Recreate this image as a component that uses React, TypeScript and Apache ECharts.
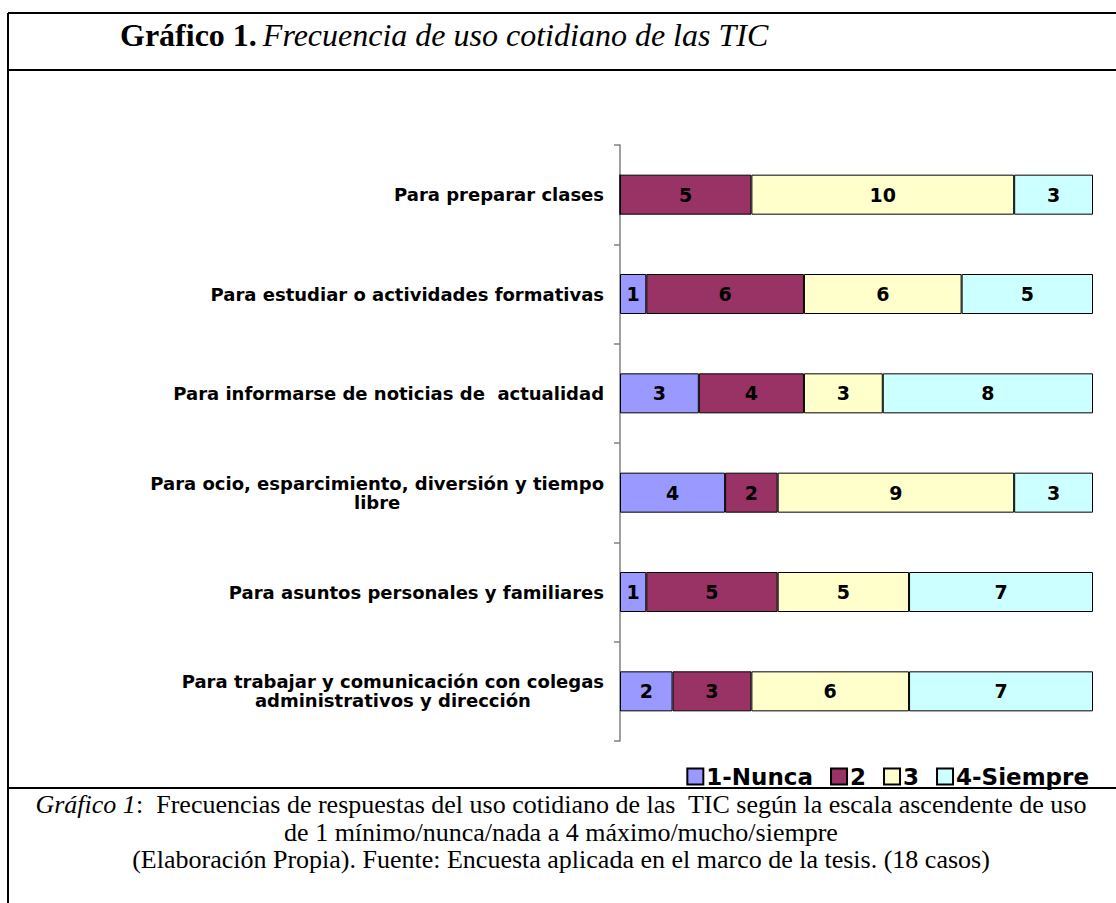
import React, { useEffect, useRef } from "react";
import * as echarts from "echarts";

const categories = [
  "Para preparar clases",
  "Para estudiar o actividades formativas",
  "Para informarse de noticias de  actualidad",
  "Para ocio, esparcimiento, diversión y tiempo\nlibre",
  "Para asuntos personales y familiares",
  "Para trabajar y comunicación con colegas\nadministrativos y dirección",
];
const seriesNames = ["1-Nunca", "2", "3", "4-Siempre"];
const nunca = [0, 1, 3, 4, 1, 2];
const dos = [5, 6, 4, 2, 5, 3];
const tres = [10, 6, 3, 9, 5, 6];
const siempre = [3, 5, 8, 3, 7, 7];
const colors = ["#9999FF", "#993366", "#FFFFCC", "#CCFFFF"];

const titleBold = "Gráfico 1.";
const titleItalic = "Frecuencia de uso cotidiano de las TIC";
const captionLines = [
  ["Gráfico 1", ":  Frecuencias de respuestas del uso cotidiano de las  TIC según la escala ascendente de uso"],
  ["", "de 1 mínimo/nunca/nada a 4 máximo/mucho/siempre"],
  ["", "(Elaboración Propia). Fuente: Encuesta aplicada en el marco de la tesis. (18 casos)"],
];
const captionY = [804, 832, 859];

export default function App() {
  const ref = useRef<HTMLDivElement>(null);
  useEffect(() => {
    if (!ref.current) return;
    const chart = echarts.init(ref.current, null, { renderer: "svg" });
    const values = [nunca, dos, tres, siempre];
    const sans = "DejaVu Sans";
    const serif = "Liberation Serif";
    chart.setOption({
      animation: false,
      backgroundColor: "#ffffff",
      grid: { left: 620, right: 23, top: 145, bottom: 162 },
      xAxis: { type: "value", min: 0, max: 18, show: false },
      yAxis: {
        type: "category",
        inverse: true,
        data: categories,
        axisLine: { show: true, lineStyle: { color: "#808080", width: 1.5 } },
        axisTick: { show: true, length: 6, lineStyle: { color: "#808080", width: 1.5 } },
        axisLabel: {
          margin: 16,
          align: "right",
          formatter: (v: string) => `{c|${v}}`,
          rich: {
            c: {
              align: "center",
              fontFamily: sans,
              fontWeight: "bold",
              fontSize: 18,
              lineHeight: 19,
              color: "#000",
            },
          },
        },
      },
      legend: {
        right: 22,
        top: 760,
        icon: "rect",
        itemWidth: 16,
        itemHeight: 16,
        itemGap: 17,
        textStyle: { fontFamily: sans, fontWeight: "bold", fontSize: 23, color: "#000", padding: [0, 0, 0, -2] },
        data: seriesNames,
      },
      series: seriesNames.map((name, i) => ({
        name,
        type: "bar",
        stack: "total",
        barWidth: 40,
        data: values[i],
        itemStyle: { color: colors[i], borderColor: "#000", borderWidth: 1 },
        label: {
          show: true,
          position: "inside",
          formatter: (p: any) => (p.value ? String(p.value) : ""),
          fontFamily: sans,
          fontWeight: "bold",
          fontSize: 19,
          color: "#000",
        },
      })),
      graphic: [
        { type: "line", shape: { x1: 8, y1: 13, x2: 1116, y2: 13 }, style: { stroke: "#000", lineWidth: 2 } },
        { type: "line", shape: { x1: 8, y1: 70, x2: 1116, y2: 70 }, style: { stroke: "#000", lineWidth: 2 } },
        { type: "line", shape: { x1: 8, y1: 788, x2: 1116, y2: 788 }, style: { stroke: "#000", lineWidth: 2 } },
        { type: "line", shape: { x1: 8, y1: 13, x2: 8, y2: 903 }, style: { stroke: "#000", lineWidth: 2 } },
        {
          type: "text",
          x: 120,
          y: 35,
          style: {
            text: `{b|${titleBold}}{s| }{i|${titleItalic}}`,
            verticalAlign: "middle",
            rich: {
              b: { fontFamily: serif, fontWeight: "bold", fontSize: 32, fill: "#000" },
              s: { fontFamily: serif, fontSize: 32, fill: "#000", width: 6 },
              i: { fontFamily: serif, fontStyle: "italic", fontSize: 32, fill: "#000" },
            },
          },
        },
        ...captionLines.map((ln, k) => ({
          type: "text",
          x: 561,
          y: captionY[k],
          style: {
            text: (ln[0] ? `{i|${ln[0]}}` : "") + `{n|${ln[1]}}`,
            align: "center",
            verticalAlign: "middle",
            rich: {
              i: { fontFamily: serif, fontStyle: "italic", fontSize: 26, lineHeight: 25, fill: "#000" },
              n: { fontFamily: serif, fontSize: 26, lineHeight: 25, fill: "#000" },
            },
          },
        })),
      ],
    });
    return () => chart.dispose();
  }, []);
  return (
    <div
      ref={ref}
      style={{ position: "fixed", left: 0, top: 0, width: 1116, height: 903 }}
    />
  );
}
